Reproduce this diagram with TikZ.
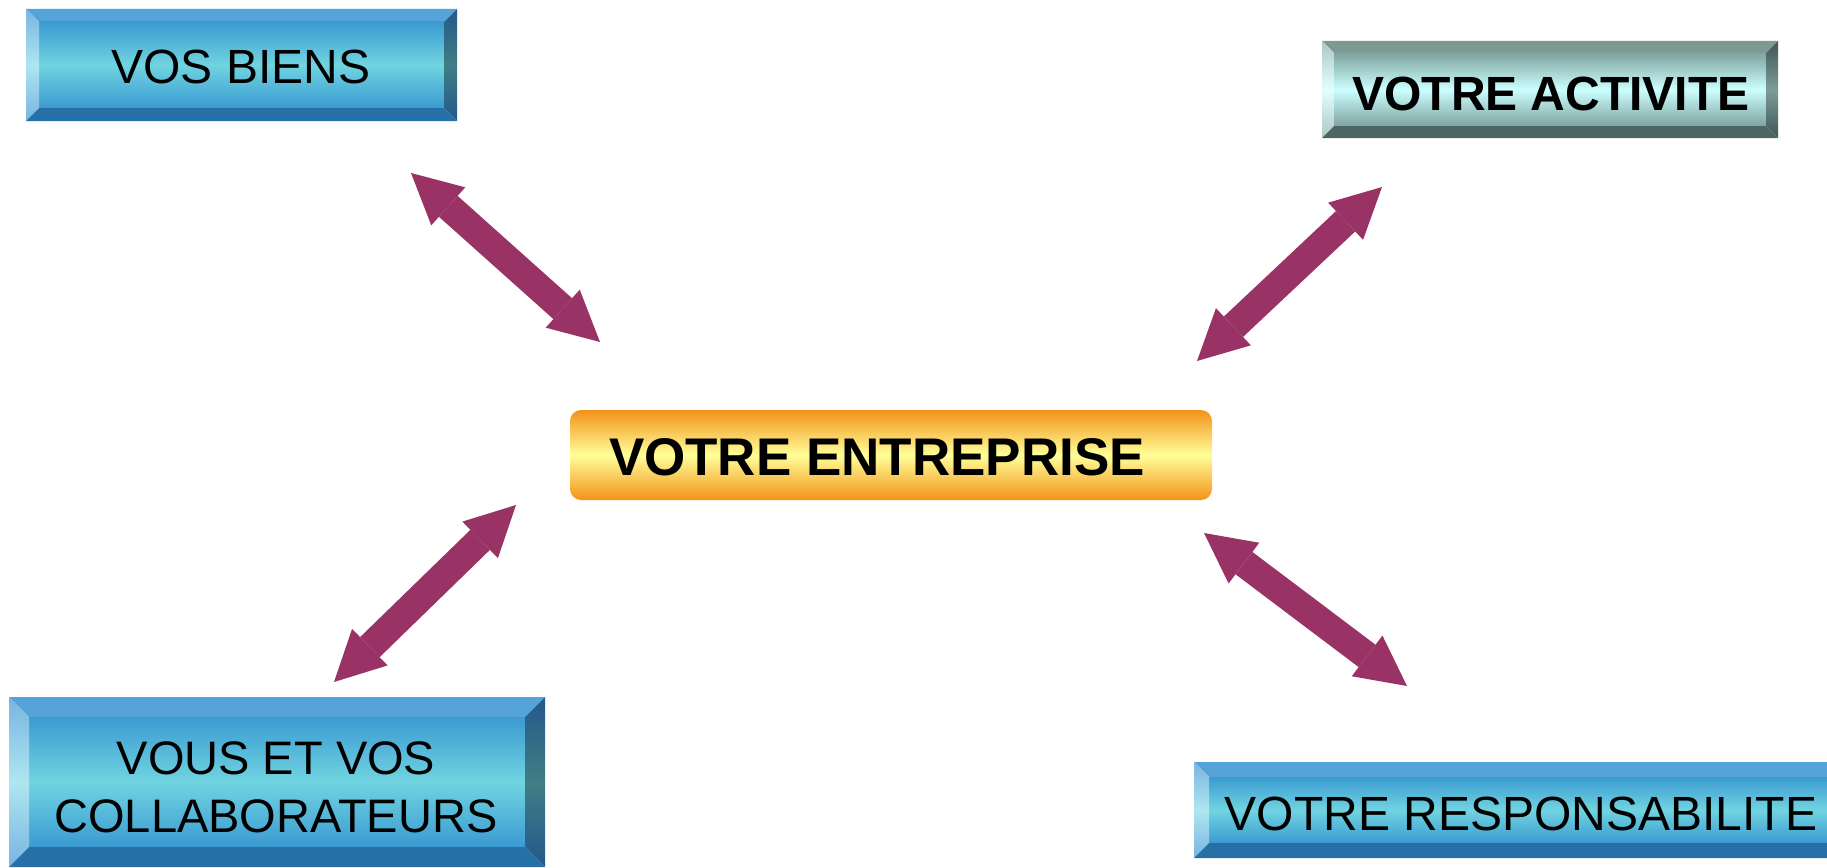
\documentclass[tikz,border=0pt]{standalone}
\usepackage{fontspec}
\setmainfont{Liberation Sans}
\usetikzlibrary{arrows.meta}
\definecolor{arrowc}{HTML}{993366}
% blue bevel scheme
\definecolor{btop}{HTML}{55A3D9}
\definecolor{bfaceE}{HTML}{3B9AD2}
\definecolor{bfaceM}{HTML}{70D4E0}
\definecolor{bleftE}{HTML}{78B4E1}
\definecolor{bleftM}{HTML}{AEE6F0}
\definecolor{brightE}{HTML}{24588A}
\definecolor{brightM}{HTML}{3F7E86}
\definecolor{bbot}{HTML}{2470A7}
% grey bevel scheme
\definecolor{gtop}{HTML}{7E9893}
\definecolor{gfaceE}{HTML}{7FA3A0}
\definecolor{gfaceM}{HTML}{CCFFFF}
\definecolor{gleftE}{HTML}{AFC6C4}
\definecolor{gleftM}{HTML}{E2FFFF}
\definecolor{grightE}{HTML}{3F5655}
\definecolor{grightM}{HTML}{7C9C9A}
\definecolor{gbot}{HTML}{4D6664}
% orange
\definecolor{orng}{HTML}{F39219}
\definecolor{yel}{HTML}{FFFF99}
\tikzset{
  bluetop/.style={fill=btop},
  blueface/.style={top color=bfaceE, bottom color=bfaceE, middle color=bfaceM},
  blueleft/.style={top color=bleftE, bottom color=bleftE, middle color=bleftM},
  blueright/.style={top color=brightE, bottom color=brightE, middle color=brightM},
  bluebot/.style={fill=bbot},
  greytop/.style={fill=gtop},
  greyface/.style={top color=gfaceE, bottom color=gfaceE, middle color=gfaceM},
  greyleft/.style={top color=gleftE, bottom color=gleftE, middle color=gleftM},
  greyright/.style={top color=grightE, bottom color=grightE, middle color=grightM},
  greybot/.style={fill=gbot},
  link/.style={draw=arrowc, line width=28pt,
    {Triangle[width=51pt,length=50pt,line width=0pt]}-{Triangle[width=51pt,length=50pt,line width=0pt]}},
  lbl/.style={anchor=base, inner sep=0pt, text=black, font=\fontsize{48}{57.6}\selectfont},
  blbl/.style={lbl, font=\fontsize{48}{57.6}\selectfont\bfseries},
  entbox/.style={rounded corners=11pt, top color=orng, bottom color=orng, middle color=yel,
    minimum width=642pt, minimum height=90pt, inner sep=0pt},
}
\newcommand\bevbox[6]{%
  \fill[#6top] (#1,#2) -- (#3,#2) -- ({#3-#5},{#2+#5}) -- ({#1+#5},{#2+#5}) -- cycle;
  \shade[#6face] ({#1+#5},{#2+#5}) rectangle ({#3-#5},{#4-#5});
  \shade[#6left] (#1,#2) -- ({#1+#5},{#2+#5}) -- ({#1+#5},{#4-#5}) -- (#1,#4) -- cycle;
  \shade[#6right] (#3,#2) -- ({#3-#5},{#2+#5}) -- ({#3-#5},{#4-#5}) -- (#3,#4) -- cycle;
  \fill[#6bot] (#1,#4) -- ({#1+#5},{#4-#5}) -- ({#3-#5},{#4-#5}) -- (#3,#4) -- cycle;
}
\begin{document}
\begin{tikzpicture}[x=1pt,y=-1pt]
\useasboundingbox (0,0) rectangle (1827,867);
\clip (0,0) rectangle (1827,867);
% boxes
\bevbox{26}{9}{457}{121}{13}{blue}
\node[lbl] (biens) at (241,83) {VOS BIENS};
\bevbox{1322}{41}{1778}{138}{12}{grey}
\node[blbl] (activ) at (1551,110) {VOTRE ACTIVITE};
\node[entbox] (entbox) at (891,455) {};
\node[lbl, font=\fontsize{53}{63}\selectfont\bfseries] (ent) at (877,475) {VOTRE ENTREPRISE};
\bevbox{9}{697}{545}{867}{20}{blue}
\node[lbl, font=\fontsize{47}{58}\selectfont, align=center, anchor=center] (collab) at (276,787) {VOUS ET VOS\\COLLABORATEURS};
\bevbox{1194}{762}{1842}{858}{15}{blue}
\node[lbl] (resp) at (1521,830) {VOTRE RESPONSABILITE};
% arrows
\coordinate (a1s) at (411,173); \coordinate (a1e) at (600,342);
\coordinate (a2s) at (1382,187); \coordinate (a2e) at (1197,361);
\coordinate (a3s) at (516,505); \coordinate (a3e) at (334,682);
\coordinate (a4s) at (1204,533); \coordinate (a4e) at (1407,686);
\draw[link] (a1s) -- (a1e);
\draw[link] (a2s) -- (a2e);
\draw[link] (a3s) -- (a3e);
\draw[link] (a4s) -- (a4e);
\end{tikzpicture}
\end{document}
